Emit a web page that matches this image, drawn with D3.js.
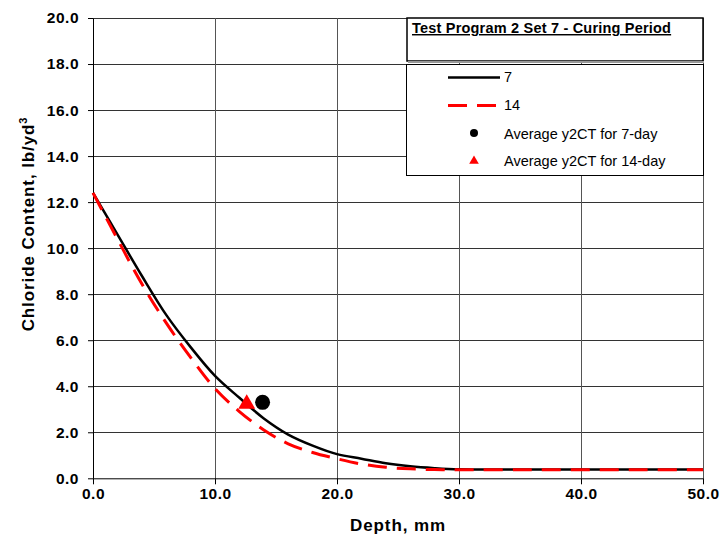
<!DOCTYPE html>
<html>
<head>
<meta charset="utf-8">
<script src="https://cdn.jsdelivr.net/npm/d3@7"></script>
<style>
  body { margin: 0; background: #fff; }
  svg { font-family: "Liberation Sans", Arial, sans-serif; }
</style>
</head>
<body>
<div id="svg-area"></div>
<script>
// Chart data
var depths = [0, 2, 4, 6, 8, 10, 12, 14, 16, 18, 20, 22, 24, 26, 28, 30, 35, 40, 45, 50];
var chloride7 = [12.4, 10.6, 8.8, 7.1, 5.7, 4.45, 3.5, 2.6, 1.9, 1.42, 1.05, 0.85, 0.65, 0.52, 0.44, 0.39, 0.38, 0.38, 0.38, 0.38];
var chloride14 = [12.4, 10.4, 8.45, 6.75, 5.25, 3.9, 2.9, 2.1, 1.5, 1.12, 0.85, 0.62, 0.48, 0.41, 0.38, 0.37, 0.37, 0.37, 0.37, 0.37];
var avgPoint7 = {depth: 13.9, value: 3.3};
var avgPoint14 = {depth: 12.6, value: 3.23};
var xTicks = [0, 10, 20, 30, 40, 50];
var yTicks = [0, 2, 4, 6, 8, 10, 12, 14, 16, 18, 20];
var legendTitle = "Test Program 2 Set 7 - Curing Period";
var legendLabels = ["7", "14", "Average y2CT for 7-day", "Average y2CT for 14-day"];

// SVG area
var svgWidth = 720;
var svgHeight = 541;
var margin = {top: 18, right: 17, bottom: 62.7, left: 93};
var chartWidth = svgWidth - margin.left - margin.right;
var chartHeight = svgHeight - margin.top - margin.bottom;

var svg = d3.select("#svg-area")
  .append("svg")
  .attr("width", svgWidth)
  .attr("height", svgHeight);

var chartGroup = svg.append("g")
  .attr("transform", `translate(${margin.left}, ${margin.top})`);

// Scales
var xScale = d3.scaleLinear().domain([0, 50]).range([0, chartWidth]);
var yScale = d3.scaleLinear().domain([0, 20]).range([chartHeight, 0]);

// Grid
chartGroup.append("g")
  .selectAll("line.h")
  .data(yTicks.slice(1))
  .enter()
  .append("line")
  .attr("x1", 0).attr("x2", chartWidth)
  .attr("y1", d => Math.round(yScale(d)) + 0.5)
  .attr("y2", d => Math.round(yScale(d)) + 0.5)
  .attr("stroke", "#333")
  .attr("stroke-width", 1);

chartGroup.append("g")
  .selectAll("line.v")
  .data(xTicks.slice(1))
  .enter()
  .append("line")
  .attr("x1", d => Math.round(xScale(d)) + 0.5)
  .attr("x2", d => Math.round(xScale(d)) + 0.5)
  .attr("y1", 0).attr("y2", chartHeight)
  .attr("stroke", "#555")
  .attr("stroke-width", 1);

// Axes
var bottomAxis = d3.axisBottom(xScale).tickValues(xTicks).tickFormat(d3.format(".1f"))
  .tickSize(6).tickPadding(4).tickSizeOuter(0);
var leftAxis = d3.axisLeft(yScale).tickValues(yTicks).tickFormat(d3.format(".1f"))
  .tickSize(5).tickPadding(9).tickSizeOuter(0);

var xAxisG = chartGroup.append("g")
  .attr("transform", `translate(0, ${chartHeight})`)
  .call(bottomAxis);
var yAxisG = chartGroup.append("g").call(leftAxis);

[xAxisG, yAxisG].forEach(function(g) {
  g.selectAll("path, line").attr("stroke", "#000").attr("stroke-width", 1);
  g.selectAll("text")
    .attr("fill", "#000")
    .style("font-size", "15.5px")
    .style("font-weight", "bold")
    .style("letter-spacing", "0.5px")
    .style("font-family", "Liberation Sans, Arial, sans-serif");
});

// Axis titles
svg.append("text")
  .attr("x", margin.left + chartWidth / 2)
  .attr("y", 531)
  .attr("text-anchor", "middle")
  .style("font-size", "17px")
  .style("font-weight", "bold")
  .style("letter-spacing", "0.9px")
  .text("Depth, mm");

var yTitle = svg.append("text")
  .attr("transform", "translate(34, 224) rotate(-90)")
  .attr("text-anchor", "middle")
  .style("font-size", "17px")
  .style("font-weight", "bold")
  .style("letter-spacing", "0.9px");
yTitle.append("tspan").text("Chloride Content, lb/yd");
yTitle.append("tspan").attr("dy", -7).style("font-size", "11px").text("3");

// Curves
var line = d3.line()
  .x(d => xScale(d[0]))
  .y(d => yScale(d[1]))
  .curve(d3.curveCatmullRom);

chartGroup.append("path")
  .datum(depths.map((d, i) => [d, chloride7[i]]))
  .attr("d", line)
  .attr("fill", "none")
  .attr("stroke", "#000")
  .attr("stroke-width", 2.5);

chartGroup.append("path")
  .datum(depths.map((d, i) => [d, chloride14[i]]))
  .attr("d", line)
  .attr("fill", "none")
  .attr("stroke", "#ff0000")
  .attr("stroke-width", 3)
  .attr("stroke-dasharray", "19,10");

// Average points
var triangle = d3.symbol().type(d3.symbolTriangle);

chartGroup.append("circle")
  .attr("cx", xScale(avgPoint7.depth))
  .attr("cy", yScale(avgPoint7.value))
  .attr("r", 7.5)
  .attr("fill", "#000");

chartGroup.append("path")
  .attr("d", triangle.size(125)())
  .attr("transform", `translate(${xScale(avgPoint14.depth)}, ${yScale(avgPoint14.value)})`)
  .attr("fill", "#ff0000");

// Legend title box
svg.append("rect")
  .attr("x", 407).attr("y", 18)
  .attr("width", 296).attr("height", 43)
  .attr("fill", "#fff")
  .attr("stroke", "#000")
  .attr("stroke-width", 1.5);
svg.append("line")
  .attr("x1", 408).attr("x2", 704)
  .attr("y1", 62).attr("y2", 62)
  .attr("stroke", "#999").attr("stroke-width", 2);

svg.append("text")
  .attr("x", 412).attr("y", 33)
  .style("font-size", "14.5px")
  .style("font-weight", "bold")
  .style("letter-spacing", "0.2px")
  .style("text-decoration", "underline")
  .text(legendTitle);

// Legend box
svg.append("rect")
  .attr("x", 406.5).attr("y", 64.5)
  .attr("width", 297).attr("height", 111)
  .attr("fill", "#fff")
  .attr("stroke", "#000")
  .attr("stroke-width", 1);

var legend = svg.append("g");
legend.append("line")
  .attr("x1", 448).attr("x2", 500).attr("y1", 77.5).attr("y2", 77.5)
  .attr("stroke", "#000").attr("stroke-width", 2.5);
legend.append("line")
  .attr("x1", 448).attr("x2", 500).attr("y1", 105.5).attr("y2", 105.5)
  .attr("stroke", "#ff0000").attr("stroke-width", 3)
  .attr("stroke-dasharray", "19,10");
legend.append("circle")
  .attr("cx", 474).attr("cy", 133).attr("r", 4).attr("fill", "#000");
legend.append("path")
  .attr("d", triangle.size(40)())
  .attr("transform", "translate(474, 161)")
  .attr("fill", "#ff0000");

var legendY = [82, 109.5, 138.5, 166];
legend.selectAll("text.lbl")
  .data(legendLabels)
  .enter()
  .append("text")
  .attr("x", 504)
  .attr("y", (d, i) => legendY[i])
  .style("font-size", "14.5px")
  .text(d => d);
</script>
</body>
</html>
